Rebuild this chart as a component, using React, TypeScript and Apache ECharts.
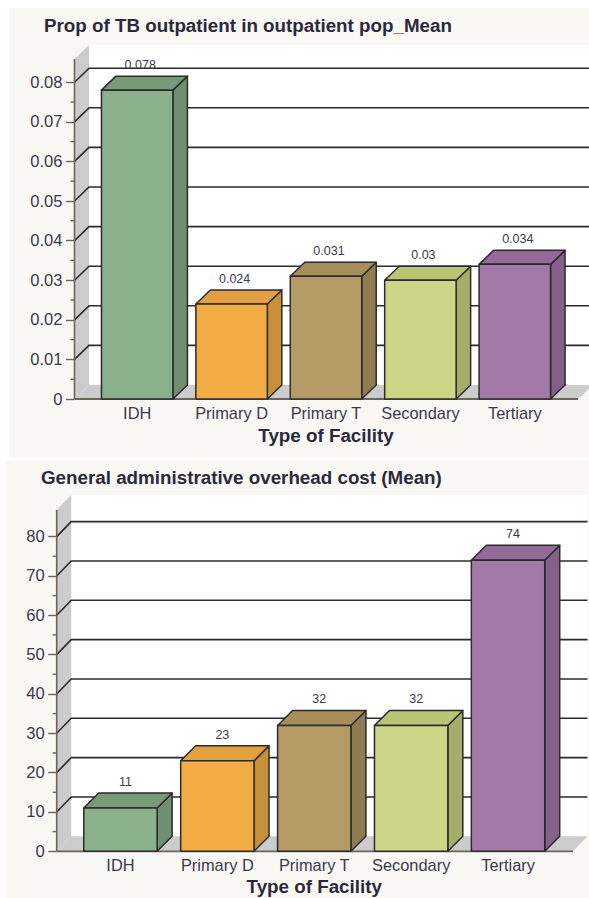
import React, { useEffect, useRef } from "react";
import * as echarts from "echarts";

const facilityTypes = ["IDH", "Primary D", "Primary T", "Secondary", "Tertiary"];
const outpatientShare = [0.078, 0.024, 0.031, 0.03, 0.034];
const overheadCost = [11, 23, 32, 32, 74];
const outpatientTicks = [0, 0.01, 0.02, 0.03, 0.04, 0.05, 0.06, 0.07, 0.08];
const outpatientMinorTicks = [0.005, 0.015, 0.025, 0.035, 0.045, 0.055, 0.065, 0.075];
const overheadTicks = [0, 10, 20, 30, 40, 50, 60, 70, 80];
const overheadMinorTicks = [5, 15, 25, 35, 45, 55, 65, 75];

const faceColors = [
  { front: "#8ab08c", top: "#779b79", side: "#6f8f72" },
  { front: "#f2ac45", top: "#e3a03f", side: "#c79038" },
  { front: "#b49b66", top: "#a68d5a", side: "#8f7c50" },
  { front: "#cbd786", top: "#bac573", side: "#a4ae6a" },
  { front: "#a379a8", top: "#946a99", side: "#856189" },
];

const TEXT = "#3b3a4c";
const AXIS = "#6b6458";
const INK = "#2b2b2b";
const WALL = "#cccccc";
const PANEL = "#faf8f4";
const FONT = "'Liberation Sans', Arial, sans-serif";
const BAR_RATIO = 0.757;
const HEADING_SIZE = 18.8;

// Draws the box behind the bars: side wall, floor, back wall, grid lines and the axis rules.
function roomRenderer(ticks: number[], minorTicks: number[], dx: number, dy: number, axisGap: number, frontRight: number) {
  return (params: any, api: any) => {
    const cs = params.coordSys;
    const axisX = cs.x - axisGap;
    const backX = axisX + dx;
    const base = cs.y + cs.height;
    const top = cs.y;
    const yOf = (v: number) => api.coord([0, v])[1];
    const children: any[] = [
      { type: "rect", shape: { x: backX, y: top + dy, width: frontRight + dx - backX, height: cs.height }, style: { fill: "#ffffff" } },
      { type: "polygon", shape: { points: [[axisX, top], [backX, top + dy], [backX, base + dy], [axisX, base]] }, style: { fill: WALL } },
      { type: "polygon", shape: { points: [[axisX, base], [backX, base + dy], [frontRight + dx, base + dy], [frontRight, base]] }, style: { fill: WALL } },
    ];
    ticks.filter((t) => t > 0).forEach((t) => {
      const y = yOf(t);
      children.push({
        type: "polyline",
        shape: { points: [[axisX, y], [backX, y + dy], [frontRight + dx, y + dy]] },
        style: { fill: "none", stroke: INK, lineWidth: 1.6 },
      });
    });
    minorTicks.forEach((t) => {
      const y = yOf(t);
      children.push({ type: "line", shape: { x1: axisX - 4, y1: y, x2: axisX, y2: y }, style: { stroke: AXIS, lineWidth: 1.4 } });
    });
    children.push({ type: "line", shape: { x1: axisX, y1: top, x2: axisX, y2: base }, style: { stroke: AXIS, lineWidth: 1.6 } });
    children.push({ type: "line", shape: { x1: axisX, y1: base, x2: frontRight, y2: base }, style: { stroke: AXIS, lineWidth: 1.8 } });
    return { type: "group", children };
  };
}

// Draws one extruded bar from its category and value, with its value label above the top face.
function barRenderer(dx: number, dy: number, labelShift: number) {
  return (params: any, api: any) => {
    const idx = api.value(0);
    const value = api.value(1);
    const [cx, yTop] = api.coord([idx, value]);
    const [, yBase] = api.coord([idx, 0]);
    const w = api.size([1, 0])[0] * BAR_RATIO;
    const x0 = cx - w / 2;
    const x1 = cx + w / 2;
    const c = faceColors[idx];
    const edge = { stroke: INK, lineWidth: 1.5, lineJoin: "round" };
    return {
      type: "group",
      children: [
        { type: "polygon", shape: { points: [[x1, yTop], [x1 + dx, yTop + dy], [x1 + dx, yBase + dy], [x1, yBase]] }, style: { fill: c.side, ...edge } },
        { type: "polygon", shape: { points: [[x0, yTop], [x0 + dx, yTop + dy], [x1 + dx, yTop + dy], [x1, yTop]] }, style: { fill: c.top, ...edge } },
        { type: "rect", shape: { x: x0, y: yTop, width: w, height: yBase - yTop }, style: { fill: c.front, ...edge } },
        {
          type: "text",
          style: {
            x: cx + labelShift,
            y: yTop + dy - 11,
            text: String(value),
            fill: TEXT,
            font: `12.5px ${FONT}`,
            align: "center",
            verticalAlign: "middle",
          },
        },
      ],
    };
  };
}

function categoryAxis(gridIndex: number, nameGap: number) {
  return {
    type: "category",
    gridIndex,
    data: facilityTypes,
    name: "Type of Facility",
    nameLocation: "middle",
    nameGap,
    nameTextStyle: { fontFamily: FONT, fontSize: HEADING_SIZE, fontWeight: "bold", color: "#2a2a3a" },
    axisLine: { show: false },
    axisTick: { show: false },
    axisLabel: { fontFamily: FONT, fontSize: 16.4, color: TEXT, margin: 6, interval: 0 },
  };
}

function valueAxis(gridIndex: number, max: number, ticks: number[], offset: number) {
  return {
    type: "value",
    gridIndex,
    min: 0,
    max,
    offset,
    splitLine: { show: false },
    axisLine: { show: false },
    axisTick: { show: true, length: 8.5, customValues: ticks, lineStyle: { color: AXIS, width: 1.4 } },
    axisLabel: { fontFamily: FONT, fontSize: 16.6, color: TEXT, margin: 12, customValues: ticks },
  };
}

const App = () => {
  const ref = useRef<HTMLDivElement>(null);
  useEffect(() => {
    const chart = echarts.init(ref.current!, undefined, { renderer: "svg" });
    chart.setOption({
      animation: false,
      backgroundColor: "#ffffff",
      graphic: [
        { type: "rect", z: -1, shape: { x: 9, y: 8, width: 580, height: 450 }, style: { fill: PANEL } },
        { type: "rect", z: -1, shape: { x: 5, y: 461, width: 584, height: 437 }, style: { fill: PANEL } },
      ],
      title: [
        {
          text: "Prop of TB outpatient in outpatient pop_Mean",
          left: 44,
          top: 16,
          padding: 0,
          textStyle: { fontFamily: FONT, fontSize: HEADING_SIZE, fontWeight: "bold", color: "#2a2a3a" },
        },
        {
          text: "General administrative overhead cost (Mean)",
          left: 41,
          top: 468,
          padding: 0,
          textStyle: { fontFamily: FONT, fontSize: HEADING_SIZE, fontWeight: "bold", color: "#2a2a3a" },
        },
      ],
      grid: [
        { left: 90, top: 59, width: 472, height: 340 },
        { left: 72, top: 510, width: 484.5, height: 341.3 },
      ],
      xAxis: [categoryAxis(0, 26.5), categoryAxis(1, 26)],
      yAxis: [valueAxis(0, 0.08586, outpatientTicks, 15.5), valueAxis(1, 86.76, overheadTicks, 15.3)],
      series: [
        {
          type: "custom",
          xAxisIndex: 0,
          yAxisIndex: 0,
          z: 1,
          data: [[0, 0]],
          renderItem: roomRenderer(outpatientTicks, outpatientMinorTicks, 14.5, -14, 15.5, 578),
        },
        {
          type: "custom",
          xAxisIndex: 0,
          yAxisIndex: 0,
          z: 3,
          data: outpatientShare.map((v, i) => [i, v]),
          renderItem: barRenderer(14.5, -14, 3),
        },
        {
          type: "custom",
          xAxisIndex: 1,
          yAxisIndex: 1,
          z: 1,
          data: [[0, 0]],
          renderItem: roomRenderer(overheadTicks, overheadMinorTicks, 14.5, -15, 15.3, 573),
        },
        {
          type: "custom",
          xAxisIndex: 1,
          yAxisIndex: 1,
          z: 3,
          data: overheadCost.map((v, i) => [i, v]),
          renderItem: barRenderer(15, -15, 5),
        },
      ],
    });
    return () => chart.dispose();
  }, []);
  return <div ref={ref} style={{ position: "absolute", left: 0, top: 0, width: 589, height: 898 }} />;
};

export default App;
